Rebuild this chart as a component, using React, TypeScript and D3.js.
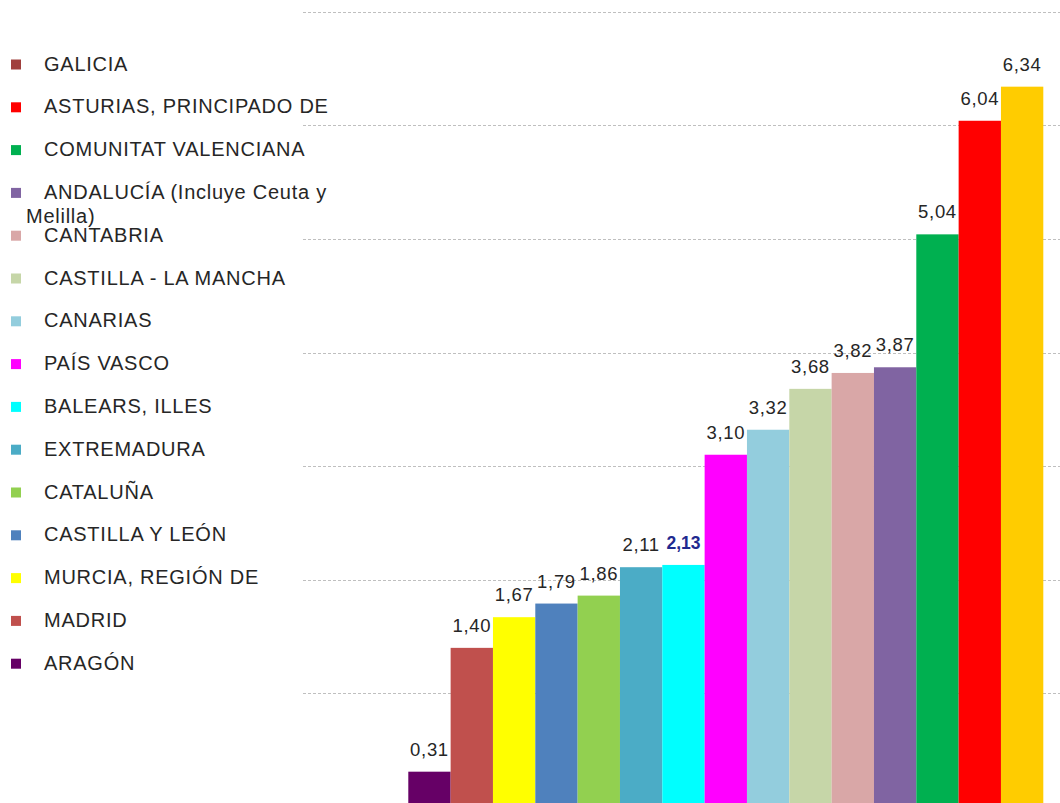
import React from "react";
import * as d3 from "d3";

const regions = [
  "ARAGÓN",
  "MADRID",
  "MURCIA, REGIÓN DE",
  "CASTILLA Y LEÓN",
  "CATALUÑA",
  "EXTREMADURA",
  "BALEARS, ILLES",
  "PAÍS VASCO",
  "CANARIAS",
  "CASTILLA - LA MANCHA",
  "CANTABRIA",
  "ANDALUCÍA (Incluye Ceuta y Melilla)",
  "COMUNITAT VALENCIANA",
  "ASTURIAS, PRINCIPADO DE",
  "GALICIA",
];
const values = [0.31, 1.4, 1.67, 1.79, 1.86, 2.11, 2.13, 3.1, 3.32, 3.68, 3.82, 3.87, 5.04, 6.04, 6.34];
const barColors = [
  "#660066", "#C0504D", "#FFFF00", "#4F81BD", "#92D050", "#4BACC6", "#00FFFF",
  "#FF00FF", "#93CDDD", "#C6D6A8", "#D9A7A7", "#8064A2", "#00B050", "#FF0000", "#FFCC00",
];
// legend order (top to bottom) and its marker colours as drawn
const legendLabels = [
  "GALICIA",
  "ASTURIAS, PRINCIPADO DE",
  "COMUNITAT VALENCIANA",
  "ANDALUCÍA (Incluye Ceuta y",
  "CANTABRIA",
  "CASTILLA - LA MANCHA",
  "CANARIAS",
  "PAÍS VASCO",
  "BALEARS, ILLES",
  "EXTREMADURA",
  "CATALUÑA",
  "CASTILLA Y LEÓN",
  "MURCIA, REGIÓN DE",
  "MADRID",
  "ARAGÓN",
];
const legendColors = [
  "#A0403D", "#FF0000", "#00B050", "#8064A2", "#D9A7A7", "#C6D6A8", "#93CDDD",
  "#FF00FF", "#00FFFF", "#4BACC6", "#92D050", "#4F81BD", "#FFFF00", "#C0504D", "#660066",
];
const gridTicks = [1, 2, 3, 4, 5, 6, 7];
const highlighted = "BALEARS, ILLES";

const fmt = (v: number) => v.toFixed(2).replace(".", ",");

export default function App() {
  const W = 1060;
  const H = 803;
  const x = d3.scaleBand<string>().domain(regions).range([408.3, 1043.3]).padding(0);
  const y = d3.scaleLinear().domain([0, 7]).range([806.9, 11.7]);
  const font = "'Liberation Sans', Arial, sans-serif";

  return (
    <svg
      width={W}
      height={H}
      style={{ position: "absolute", left: 0, top: 0, background: "#fff" }}
      fontFamily={font}
    >
      {gridTicks.map((t) => (
        <line
          key={t}
          x1={303}
          x2={1060}
          y1={Math.round(y(t)) + 0.5}
          y2={Math.round(y(t)) + 0.5}
          stroke="#BFBFBF"
          strokeWidth={1}
          strokeDasharray="3,2"
        />
      ))}
      {regions.map((r, i) => (
        <rect
          key={r}
          x={x(r)}
          y={y(values[i])}
          width={x.bandwidth()}
          height={y(0) - y(values[i])}
          fill={barColors[i]}
        />
      ))}
      {regions.map((r, i) => {
        const hl = r === highlighted;
        return (
          <text
            key={r + "l"}
            x={(x(r) as number) + x.bandwidth() / 2}
            y={y(values[i]) - 16}
            textAnchor="middle"
            fontSize={hl ? 17.5 : 18.5}
            fontWeight={hl ? "bold" : "normal"}
            letterSpacing={hl ? 0 : 0.7}
            fill={hl ? "#1F2A8F" : "#262626"}
          >
            {fmt(values[i])}
          </text>
        );
      })}
      {legendLabels.map((l, i) => {
        const base = 70.5 + i * 42.8;
        return (
          <g key={l}>
            <rect x={11} y={base - 11} width={10} height={10} fill={legendColors[i]} />
            <text x={44} y={base} fontSize={20} letterSpacing={0.75} fill="#262626">
              {l}
            </text>
          </g>
        );
      })}
      <text x={26} y={222.5} fontSize={20} letterSpacing={0.75} fill="#262626">
        Melilla)
      </text>
    </svg>
  );
}
